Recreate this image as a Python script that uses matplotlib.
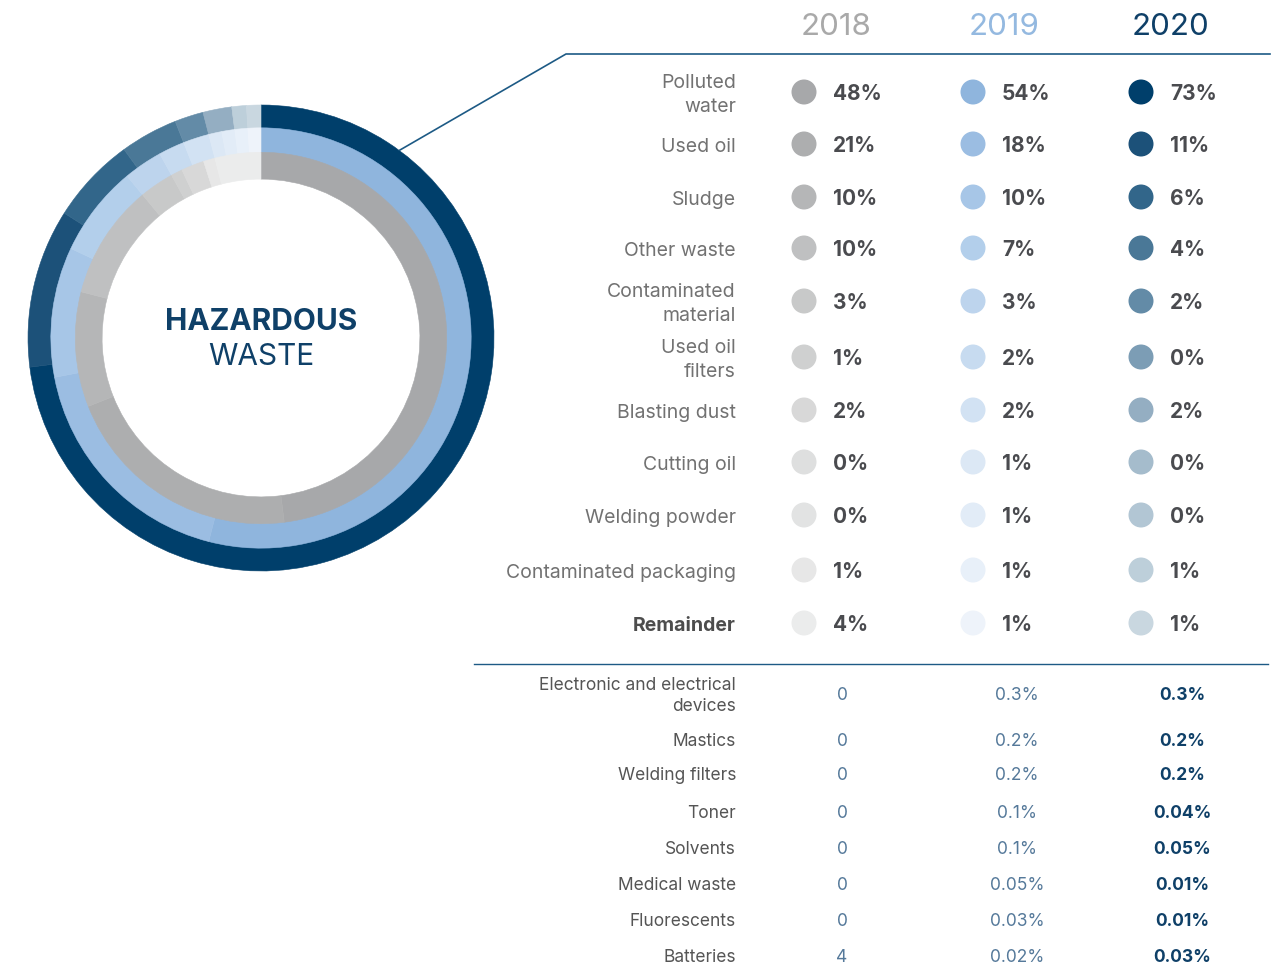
import matplotlib
matplotlib.use("Agg")
import matplotlib.pyplot as plt
from matplotlib.patches import Circle
from matplotlib.lines import Line2D

plt.rcParams["font.family"] = ["Inter", "DejaVu Sans"]

# ---- data -------------------------------------------------------------
years = ["2018", "2019", "2020"]

categories = ["Polluted\nwater", "Used oil", "Sludge", "Other waste",
              "Contaminated\nmaterial", "Used oil\nfilters", "Blasting dust",
              "Cutting oil", "Welding powder", "Contaminated packaging",
              "Remainder"]
share_2018 = [48, 21, 10, 10, 3, 1, 2, 0, 0, 1, 4]
share_2019 = [54, 18, 10, 7, 3, 2, 2, 1, 1, 1, 1]
share_2020 = [73, 11, 6, 4, 2, 0, 2, 0, 0, 1, 1]

minor_categories = ["Electronic and electrical\ndevices", "Mastics",
                    "Welding filters", "Toner", "Solvents", "Medical waste",
                    "Fluorescents", "Batteries"]
minor_2018 = ["0", "0", "0", "0", "0", "0", "0", "4"]
minor_2019 = ["0.3%", "0.2%", "0.2%", "0.1%", "0.1%", "0.05%", "0.03%", "0.02%"]
minor_2020 = ["0.3%", "0.2%", "0.2%", "0.04%", "0.05%", "0.01%", "0.01%", "0.03%"]

# ---- palette ----------------------------------------------------------
greys = ["#a7a8aa", "#adaeaf", "#b5b6b7", "#bfc0c1", "#c8c9c9", "#cfd0d0",
         "#d8d8d8", "#dedfdf", "#e2e3e3", "#e7e7e7", "#ebecec"]
blues = ["#8fb5dd", "#9bbde2", "#a7c6e7", "#b3cfeb", "#bdd4ed", "#c7dbf0",
         "#d2e2f3", "#dce8f5", "#e2ecf7", "#e8f0f9", "#eef3fa"]
navies = ["#003f6b", "#1c5179", "#32668a", "#4a7897", "#638ba7", "#7c9db5",
          "#94aec2", "#a5bccc", "#b2c6d4", "#bdcfda", "#c9d7e0"]
header_colors = ["#a9a9a9", "#94b9e0", "#0f4068"]
navy_line = "#1d5a85"
label_grey = "#727272"
value_dark = "#4a4b4f"

W, H = 1278, 967
fig = plt.figure(figsize=(W / 100, H / 100), dpi=100)

# overlay in pixel coordinates for the table part
ax = fig.add_axes([0, 0, 1, 1])
ax.set_xlim(0, W)
ax.set_ylim(H, 0)
ax.axis("off")

# ---- donut ------------------------------------------------------------
cx, cy, R = 261, 338, 233
dax = fig.add_axes([(cx - R) / W, 1 - (cy + R) / H, 2 * R / W, 2 * R / H])
rings = [(share_2020, navies, 1.0, 0.100),
         (share_2019, blues, 0.902, 0.107),
         (share_2018, greys, 0.797, 0.115)]
for shares, cols, radius, width in rings:
    wedges, _ = dax.pie(shares, colors=cols, radius=radius, startangle=90,
                        counterclock=False,
                        wedgeprops=dict(width=width, linewidth=0))
    for w, c in zip(wedges, cols):
        w.set_edgecolor(c)
        w.set_linewidth(0.4)
dax.set_xlim(-1, 1)
dax.set_ylim(-1, 1)
dax.set_aspect("equal")
dax.axis("off")

dax.text(0, 0.07, "HAZARDOUS", ha="center", va="center", fontsize=21.5,
         fontweight="bold", color="#0f4068")
dax.text(0, -0.08, "WASTE", ha="center", va="center", fontsize=21.5,
         color="#0f4068")

# connector line and header rule
ax.add_line(Line2D([400, 566, 1270], [150, 54, 54], color=navy_line, lw=1.2))
ax.add_line(Line2D([474, 1268], [664, 664], color=navy_line, lw=1.0))

# ---- headers ----------------------------------------------------------
col_x = [804, 973, 1141]
header_x = [836, 1004, 1171]
for yr, hx, hc in zip(years, header_x, header_colors):
    ax.text(hx, 27, yr, ha="center", va="center", fontsize=22.5, color=hc)

# ---- main table -------------------------------------------------------
row_y = [92, 144, 197, 248, 301, 357, 410, 462, 515, 570, 623]
label_x = 736
for i, (cat, y) in enumerate(zip(categories, row_y)):
    last = i == len(categories) - 1
    ax.text(label_x, y + 3, cat, ha="right", va="center", fontsize=14,
            linespacing=1.38, color="#4d4d4d" if last else label_grey,
            fontweight="bold" if last else "normal")
    for x, shares, cols in zip(col_x, [share_2018, share_2019, share_2020],
                               [greys, blues, navies]):
        ax.add_patch(Circle((x, y), 12.5, color=cols[i], lw=0))
        ax.text(x + 29, y + 2, f"{shares[i]}%", ha="left", va="center",
                fontsize=15, fontweight="bold", color=value_dark)

# ---- minor items ------------------------------------------------------
minor_y = [694, 740, 774, 811, 847, 883, 919, 955]
minor_x = [842, 1017, 1182]
for i, (cat, y) in enumerate(zip(minor_categories, minor_y)):
    ax.text(label_x, y + 2, cat, ha="right", va="center", fontsize=12.5,
            linespacing=1.3, color="#555555")
    ax.text(minor_x[0], y + 2, minor_2018[i], ha="center", va="center",
            fontsize=12.5, color="#55799a")
    ax.text(minor_x[1], y + 2, minor_2019[i], ha="center", va="center",
            fontsize=12.5, color="#55799a")
    ax.text(minor_x[2], y + 2, minor_2020[i], ha="center", va="center",
            fontsize=12.5, color="#0f4068", fontweight="bold")

fig.savefig("out.png", dpi=100, facecolor="white")
